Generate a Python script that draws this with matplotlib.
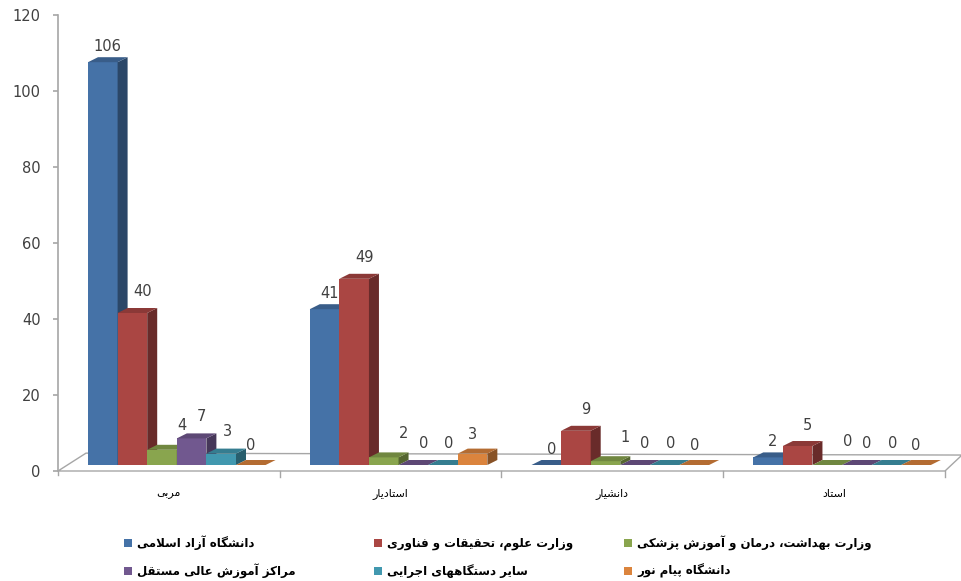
import numpy as np
import matplotlib
matplotlib.use("Agg")
import matplotlib.pyplot as plt
from matplotlib.patches import Polygon, Rectangle
from matplotlib.colors import to_rgb

# Data
categories = ["مربی", "استادیار", "دانشیار", "استاد"]
series_names = [
    "دانشگاه آزاد اسلامی",
    "وزارت علوم، تحقیقات و فناوری",
    "وزارت بهداشت، درمان و آموزش پزشکی",
    "مراکز آموزش عالی مستقل",
    "سایر دستگاههای اجرایی",
    "دانشگاه پیام نور",
]
azad = [106, 41, 0, 2]
olum = [40, 49, 9, 5]
behdasht = [4, 2, 1, 0]
mostaghel = [7, 0, 0, 0]
sayer = [3, 0, 0, 0]
payamnoor = [0, 3, 0, 0]
values = [azad, olum, behdasht, mostaghel, sayer, payamnoor]
yticks = [0, 20, 40, 60, 80, 100, 120]

COLORS = ["#4572A7", "#AA4643", "#89A54E", "#71588F", "#4198AF", "#DB843D"]

# Style / geometry (pixels)
W, H = 962, 581
AX_L, AX_R, AX_T, AX_B = 58, 945, 15, 471
PX_X = 4 / (AX_R - AX_L)       # data units per px (x)
PX_Y = 120 / (AX_B - AX_T)     # data units per px (y)
BAR_OFF = 30 * PX_X
BAR_W = 29.6 * PX_X
DX = 10 * PX_X
DY = 5 * PX_Y
LIFT = 6 * PX_Y
LABEL_DX = [5, 10, 20, 10, 6, 0]
LABEL_DY = [16, 21, 24, 22, 22, 19]
GRAY = "#A6A6A6"
TXT = "#404040"

# --- minimal Persian shaping (presentation forms + RTL order) ---
FORMS = {
    "ا": ("\ufe8d", "\ufe8e"), "آ": ("\ufe81", "\ufe82"),
    "د": ("\ufea9", "\ufeaa"), "ر": ("\ufead", "\ufeae"),
    "ز": ("\ufeaf", "\ufeb0"), "ژ": ("\ufb8a", "\ufb8b"),
    "و": ("\ufeed", "\ufeee"),
    "ب": ("\ufe8f", "\ufe90", "\ufe91", "\ufe92"),
    "پ": ("\ufb56", "\ufb57", "\ufb58", "\ufb59"),
    "ت": ("\ufe95", "\ufe96", "\ufe97", "\ufe98"),
    "ج": ("\ufe9d", "\ufe9e", "\ufe9f", "\ufea0"),
    "ح": ("\ufea1", "\ufea2", "\ufea3", "\ufea4"),
    "س": ("\ufeb1", "\ufeb2", "\ufeb3", "\ufeb4"),
    "ش": ("\ufeb5", "\ufeb6", "\ufeb7", "\ufeb8"),
    "ع": ("\ufec9", "\ufeca", "\ufecb", "\ufecc"),
    "ف": ("\ufed1", "\ufed2", "\ufed3", "\ufed4"),
    "ق": ("\ufed5", "\ufed6", "\ufed7", "\ufed8"),
    "ک": ("\ufb8e", "\ufb8f", "\ufb90", "\ufb91"),
    "گ": ("\ufb92", "\ufb93", "\ufb94", "\ufb95"),
    "ل": ("\ufedd", "\ufede", "\ufedf", "\ufee0"),
    "م": ("\ufee1", "\ufee2", "\ufee3", "\ufee4"),
    "ن": ("\ufee5", "\ufee6", "\ufee7", "\ufee8"),
    "ه": ("\ufee9", "\ufeea", "\ufeeb", "\ufeec"),
    "ی": ("\ufbfc", "\ufbfd", "\ufbfe", "\ufbff"),
}


def shape(s):
    out = []
    prev_joins = False
    i = 0
    while i < len(s):
        c = s[i]
        f = FORMS.get(c)
        if f is None:
            out.append(c)
            prev_joins = False
            i += 1
            continue
        if c == "ل" and i + 1 < len(s) and s[i + 1] == "ا":
            out.append("\ufefc" if prev_joins else "\ufefb")
            prev_joins = False
            i += 2
            continue
        nxt = s[i + 1] if i + 1 < len(s) else None
        next_joins = len(f) == 4 and nxt in FORMS
        if prev_joins and next_joins:
            g = f[3]
        elif prev_joins:
            g = f[1]
        elif next_joins:
            g = f[2]
        else:
            g = f[0]
        out.append(g)
        prev_joins = len(f) == 4
        i += 1
    return "".join(reversed(out))


def shade(color, k):
    r, g, b = to_rgb(color)
    return (r * k, g * k, b * k)


def bar3d(ax, x, h, color):
    y0 = LIFT
    y1 = LIFT + h
    if h > 0:
        ax.add_patch(Polygon([(x, y0), (x + BAR_W, y0), (x + BAR_W, y1), (x, y1)],
                             closed=True, fc=color, ec="none", zorder=3))
        ax.add_patch(Polygon([(x + BAR_W, y0), (x + BAR_W + DX, y0 + DY),
                              (x + BAR_W + DX, y1 + DY), (x + BAR_W, y1)],
                             closed=True, fc=shade(color, 0.62), ec="none", zorder=3))
    ax.add_patch(Polygon([(x, y1), (x + BAR_W, y1), (x + BAR_W + DX, y1 + DY), (x + DX, y1 + DY)],
                         closed=True, fc=shade(color, 0.82), ec="none", zorder=3))


plt.rcParams["font.family"] = ["DejaVu Sans"]
fig = plt.figure(figsize=(W / 100, H / 100), dpi=100)
ax = fig.add_axes([AX_L / W, 1 - AX_B / H, (AX_R - AX_L) / W, (AX_B - AX_T) / H])
ax.set_xlim(0, 4)
ax.set_ylim(0, 120)

# floor
floor = Polygon([(0, 0), (4, 0), (4 + 17 * PX_X, 4.2), (28 * PX_X, 4.7)],
                closed=True, fc="white", ec=GRAY, lw=1.0, zorder=1, clip_on=False)
ax.add_patch(floor)

for i in range(len(categories)):
    for j, vals in enumerate(values):
        x = i + BAR_OFF + j * BAR_W
        bar3d(ax, x, vals[i], COLORS[j])
        lx = x + BAR_W / 2 + LABEL_DX[j] * PX_X
        ly = LIFT + vals[i] + LABEL_DY[j] * PX_Y
        ax.text(lx, ly, str(vals[i]), ha="center", va="center", fontsize=10.5,
                color=TXT, zorder=5)

# axes styling
for s in ["top", "right", "bottom"]:
    ax.spines[s].set_visible(False)
ax.spines["left"].set_color(GRAY)
ax.spines["left"].set_linewidth(1.2)
ax.set_yticks(yticks)
ax.tick_params(axis="y", colors=GRAY, labelcolor=TXT, labelsize=10.5, length=3.6, width=1.2, pad=9)
ax.set_xticks([])
for b in range(1, 5):
    ax.plot([b, b], [0, -6 * PX_Y], color=GRAY, lw=1, clip_on=False)
ax.plot([0, 0], [0, -4 * PX_Y], color=GRAY, lw=1, clip_on=False)

for i, c in enumerate(categories):
    ax.text(i + 0.5, -23 * PX_Y, shape(c), ha="center", va="center", fontsize=8,
            color="black", clip_on=False)

# legend (manual, 3 columns x 2 rows)
col_x = [128, 378, 628]
row_y = [543, 571]
for j, name in enumerate(series_names):
    cx = col_x[j % 3]
    cy = row_y[j // 3]
    fig.patches.append(Rectangle(((cx - 4) / W, 1 - (cy + 4) / H), 8 / W, 8 / H,
                                 transform=fig.transFigure, fc=COLORS[j], ec="none"))
    fig.text((cx + 9) / W, 1 - cy / H, shape(name), ha="left", va="center",
             fontsize=8.5, fontweight="bold", color="black")

fig.savefig("out.png", dpi=100)
